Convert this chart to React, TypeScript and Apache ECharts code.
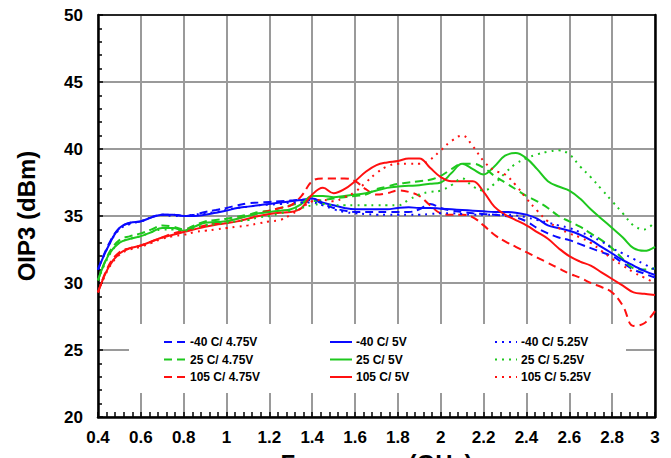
import React, { useEffect, useRef } from "react";
import * as echarts from "echarts";

const freq = [0.4, 0.45, 0.5, 0.55, 0.6, 0.65, 0.7, 0.75, 0.8, 0.85, 0.9, 0.95, 1.0, 1.05, 1.1, 1.15, 1.2, 1.25, 1.3, 1.35, 1.4, 1.45, 1.5, 1.55, 1.6, 1.65, 1.7, 1.75, 1.8, 1.85, 1.9, 1.95, 2.0, 2.05, 2.1, 2.15, 2.2, 2.25, 2.3, 2.35, 2.4, 2.45, 2.5, 2.55, 2.6, 2.65, 2.7, 2.75, 2.8, 2.85, 2.9, 2.95, 3.0];

const b475 = [31.0, 32.9, 34.1, 34.5, 34.6, 34.9, 35.1, 35.1, 35.0, 35.1, 35.3, 35.45, 35.6, 35.8, 35.95, 36.0, 36.05, 36.1, 36.15, 36.2, 36.2, 35.9, 35.6, 35.4, 35.3, 35.3, 35.3, 35.3, 35.3, 35.3, 35.5, 35.9, 35.6, 35.4, 35.3, 35.2, 35.15, 35.1, 35.0, 34.9, 34.6, 34.1, 33.7, 33.4, 33.2, 32.9, 32.6, 32.3, 32.0, 31.5, 31.0, 30.7, 30.4];
const b5 = [31.0, 32.8, 34.1, 34.5, 34.6, 34.9, 35.1, 35.1, 35.0, 35.0, 35.1, 35.25, 35.4, 35.6, 35.7, 35.8, 35.9, 36.0, 36.1, 36.2, 36.3, 36.0, 35.8, 35.6, 35.5, 35.5, 35.5, 35.5, 35.6, 35.65, 35.6, 35.6, 35.55, 35.5, 35.45, 35.4, 35.35, 35.3, 35.3, 35.25, 35.1, 34.8, 34.3, 34.1, 33.9, 33.6, 33.2, 32.7, 32.2, 31.7, 31.3, 30.9, 30.6];
const b525 = [31.0, 32.8, 34.0, 34.4, 34.6, 34.9, 35.1, 35.0, 35.0, 35.1, 35.2, 35.3, 35.45, 35.6, 35.7, 35.8, 35.85, 35.9, 36.0, 36.0, 36.0, 35.8, 35.5, 35.3, 35.2, 35.15, 35.1, 35.1, 35.1, 35.1, 35.1, 35.15, 35.2, 35.2, 35.15, 35.1, 35.1, 35.1, 35.1, 35.05, 34.9, 34.7, 34.5, 34.3, 34.1, 33.8, 33.5, 33.1, 32.6, 32.2, 31.8, 31.4, 31.0];

const g475 = [30.2, 32.2, 33.2, 33.5, 33.7, 34.0, 34.3, 34.2, 34.0, 34.3, 34.6, 34.7, 34.8, 34.95, 35.1, 35.3, 35.4, 35.6, 35.8, 36.0, 36.1, 36.2, 36.3, 36.4, 36.5, 36.6, 37.0, 37.2, 37.4, 37.5, 37.6, 37.7, 38.0, 38.5, 38.9, 38.9, 38.6, 38.0, 37.5, 37.0, 36.5, 36.1, 35.6, 35.0, 34.6, 34.2, 33.7, 33.2, 32.6, 31.8, 31.1, 31.0, 31.1];
const g5 = [30.2, 32.1, 33.0, 33.3, 33.5, 33.8, 34.1, 34.1, 33.9, 34.2, 34.5, 34.55, 34.6, 34.8, 35.0, 35.2, 35.3, 35.4, 35.5, 35.9, 36.5, 36.5, 36.4, 36.5, 36.6, 36.7, 36.9, 37.1, 37.2, 37.25, 37.3, 37.4, 37.5, 38.2, 38.9, 38.5, 38.1, 38.7, 39.5, 39.7, 39.3, 38.5, 37.6, 37.2, 36.9, 36.3, 35.5, 34.8, 34.1, 33.4, 32.6, 32.4, 32.7];
const g525 = [30.2, 32.0, 33.0, 33.3, 33.5, 33.8, 34.0, 34.0, 33.9, 34.1, 34.3, 34.4, 34.5, 34.6, 34.7, 34.9, 35.0, 35.2, 35.4, 35.6, 35.8, 35.9, 35.8, 35.8, 35.8, 35.8, 35.8, 35.8, 35.8, 36.2, 36.6, 36.8, 36.9, 37.3, 37.8, 37.2, 36.9, 37.4, 38.2, 38.9, 39.3, 39.6, 39.8, 39.9, 39.6, 38.7, 37.9, 37.0, 36.1, 35.2, 34.3, 34.0, 34.6];

const r475 = [29.3, 31.3, 32.3, 32.6, 32.8, 33.1, 33.4, 33.7, 33.9, 34.1, 34.3, 34.45, 34.6, 34.8, 35.0, 35.2, 35.4, 35.6, 35.8, 36.5, 37.6, 37.8, 37.8, 37.8, 37.6, 37.0, 36.6, 36.7, 36.9, 36.8, 36.5, 35.8, 35.2, 35.1, 35.1, 34.9, 34.3, 33.6, 33.1, 32.7, 32.3, 31.9, 31.5, 31.1, 30.7, 30.4, 30.0, 29.7, 29.3, 28.3, 26.8, 27.0, 27.9];
const r5 = [29.3, 31.2, 32.2, 32.6, 32.8, 33.1, 33.4, 33.6, 33.8, 34.0, 34.2, 34.35, 34.45, 34.6, 34.8, 35.0, 35.15, 35.25, 35.3, 35.6, 36.6, 37.1, 36.7, 37.0, 37.6, 38.3, 38.8, 39.0, 39.1, 39.3, 39.3, 38.6, 37.9, 37.6, 37.6, 37.6, 36.8, 35.7, 35.1, 34.7, 34.3, 33.8, 33.3, 32.6, 32.0, 31.6, 31.3, 30.8, 30.3, 29.8, 29.3, 29.2, 29.1];
const r525 = [29.3, 31.1, 32.1, 32.5, 32.7, 33.0, 33.3, 33.5, 33.6, 33.8, 33.9, 34.0, 34.1, 34.2, 34.3, 34.45, 34.6, 34.7, 35.1, 35.6, 36.1, 36.2, 36.1, 36.4, 36.8, 37.5, 38.2, 38.7, 38.9, 38.9, 38.9, 39.2, 39.9, 40.6, 41.0, 40.2, 39.1, 38.4, 38.1, 37.3, 36.3, 35.4, 34.6, 34.1, 33.7, 33.4, 33.0, 32.4, 31.8, 31.3, 30.8, 30.4, 30.0];

const seriesDefs = [
  { name: "-40 C/ 4.75V", values: b475, color: "#0a0aff", dash: "dashed" },
  { name: "25 C/ 4.75V", values: g475, color: "#1ec81e", dash: "dashed" },
  { name: "105 C/ 4.75V", values: r475, color: "#ff1010", dash: "dashed" },
  { name: "-40 C/ 5V", values: b5, color: "#0a0aff", dash: "solid" },
  { name: "25 C/ 5V", values: g5, color: "#1ec81e", dash: "solid" },
  { name: "105 C/ 5V", values: r5, color: "#ff1010", dash: "solid" },
  { name: "-40 C/ 5.25V", values: b525, color: "#0a0aff", dash: "dotted" },
  { name: "25 C/ 5.25V", values: g525, color: "#1ec81e", dash: "dotted" },
  { name: "105 C/ 5.25V", values: r525, color: "#ff1010", dash: "dotted" },
];

const legendCols = [
  ["-40 C/ 4.75V", "25 C/ 4.75V", "105 C/ 4.75V"],
  ["-40 C/ 5V", "25 C/ 5V", "105 C/ 5V"],
  ["-40 C/ 5.25V", "25 C/ 5.25V", "105 C/ 5.25V"],
];

const FONT = "'Liberation Sans', Arial, sans-serif";

export default function App() {
  const ref = useRef<HTMLDivElement>(null);
  useEffect(() => {
    if (!ref.current) return;
    const chart = echarts.init(ref.current, null, { renderer: "svg" });
    const dashMap: Record<string, any> = { dashed: [8, 5], dotted: [2, 5], solid: "solid" };
    const colLefts = [163, 329, 494];
    chart.setOption({
      animation: false,
      backgroundColor: "#ffffff",
      grid: { left: 98, right: 16, top: 15, bottom: 41, containLabel: false, outerBoundsMode: "none" },
      xAxis: [
        {
          type: "value",
          min: 0.4,
          max: 3,
          interval: 0.2,
          name: "Frequency (GHz)",
          nameLocation: "middle",
          nameGap: 34,
          nameTextStyle: { fontFamily: FONT, fontSize: 24, fontWeight: "bold", color: "#000" },
          axisLine: { show: true, lineStyle: { color: "#000", width: 2.5 } },
          axisTick: { show: true, inside: true, length: 5, lineStyle: { color: "#000", width: 1.5 } },
          minorTick: { show: true, splitNumber: 5, length: 5, lineStyle: { color: "#000", width: 1.5 } },
          axisLabel: { margin: 12, fontFamily: FONT, fontSize: 17, fontWeight: "bold", color: "#000" },
          splitLine: { show: true, lineStyle: { color: "#9a9a9a", width: 2 } },
        },
        {
          type: "value",
          position: "top",
          min: 0.4,
          max: 3,
          interval: 0.2,
          axisLine: { show: true, lineStyle: { color: "#000", width: 1.5 } },
          axisTick: { show: false },
          axisLabel: { show: false },
          splitLine: { show: false },
        },
      ],
      yAxis: [
        {
          type: "value",
          min: 20,
          max: 50,
          interval: 5,
          name: "OIP3 (dBm)",
          nameLocation: "middle",
          nameGap: 60,
          nameTextStyle: { fontFamily: FONT, fontSize: 24, fontWeight: "bold", color: "#000" },
          axisLine: { show: true, lineStyle: { color: "#000", width: 2.5 } },
          axisTick: { show: true, inside: true, length: 5, lineStyle: { color: "#000", width: 1.5 } },
          minorTick: { show: true, splitNumber: 5, length: 4, lineStyle: { color: "#000", width: 1.5 } },
          axisLabel: { margin: 15, fontFamily: FONT, fontSize: 17, fontWeight: "bold", color: "#000" },
          splitLine: { show: true, lineStyle: { color: "#9a9a9a", width: 2 } },
        },
        {
          type: "value",
          position: "right",
          min: 20,
          max: 50,
          interval: 5,
          axisLine: { show: true, lineStyle: { color: "#000", width: 2.5 } },
          axisTick: { show: false },
          axisLabel: { show: false },
          splitLine: { show: false },
        },
      ],
      graphic: {
        elements: [
          {
            type: "rect",
            z: 1,
            shape: { x: 129, y: 324, width: 497, height: 69 },
            style: { fill: "#ffffff" },
          },
        ],
      },
      legend: legendCols.map((col, i) => ({
        data: col,
        orient: "vertical",
        left: colLefts[i],
        top: 336,
        padding: 0,
        itemWidth: 22,
        itemHeight: 14,
        itemGap: 5.5,
        selectedMode: false,
        itemStyle: { opacity: 0, borderWidth: 0 },
        textStyle: { fontFamily: FONT, fontSize: 12, fontWeight: "bold", color: "#000", padding: [0, 0, 0, -1] },
      })),
      series: seriesDefs.map((s) => ({
        name: s.name,
        type: "line",
        xAxisIndex: 0,
        yAxisIndex: 0,
        data: freq.map((f, i) => [f, s.values[i]]),
        showSymbol: false,
        symbol: "none",
        smooth: 0.4,
        z: 3,
        lineStyle: { color: s.color, width: 2, type: dashMap[s.dash] },
        itemStyle: { color: s.color },
      })),
    });
    return () => chart.dispose();
  }, []);
  return <div ref={ref} style={{ width: 671, height: 458, position: "absolute", left: 0, top: 0 }} />;
}
